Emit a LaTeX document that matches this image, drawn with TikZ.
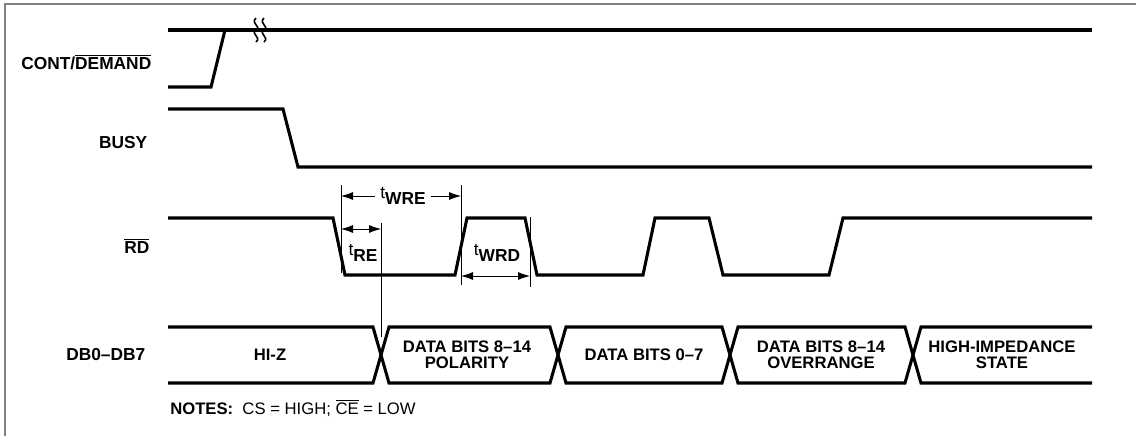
\documentclass[tikz,border=0pt]{standalone}
\usepackage{fontspec}
\setmainfont{Liberation Sans}
\usetikzlibrary{arrows.meta}

\begin{document}
\begin{tikzpicture}[x=0.75pt,y=-0.75pt,
   sig/.style={line width=2.3pt,line join=miter},
   dim/.style={line width=0.6pt},
   dimarr/.style={line width=0.6pt,-{Latex[length=9pt,width=6pt]}},
   dimboth/.style={line width=0.6pt,{Latex[length=9pt,width=6pt]}-{Latex[length=9pt,width=6pt]}},
   signame/.style={anchor=east,font=\fontsize{13}{13}\selectfont\bfseries},
   buslbl/.style={align=center,font=\fontsize{12.5}{12}\selectfont\bfseries},
   tlbl/.style={inner sep=2pt,font=\fontsize{13}{13}\selectfont}]
\useasboundingbox (0,0) rectangle (1136,436);
\draw[gray,line width=0.8pt] (1136,4) -- (5,4) -- (5,436);
% signal names
\node[signame] (lblcont) at (156,62) {CONT/$\overline{\mbox{DEMAND}}$};
\node[signame] (lblbusy) at (152,143) {BUSY};
\node[signame] (lblrd) at (154,246) {$\overline{\mbox{RD}}$};
\node[signame] (lbldb) at (150,355) {DB0--DB7};
% waveforms
\draw[sig] (168,30) -- (1092,30);
\draw[sig] (168,87) -- (211,87) -- (225,30);
\draw[line width=1.2pt] (256,18) .. controls (250,24) and (262,26) .. (256,30)
   .. controls (250,34) and (262,37) .. (256,42);
\draw[line width=1.2pt] (264,18) .. controls (258,24) and (270,26) .. (264,30)
   .. controls (258,34) and (270,37) .. (264,42);
\draw[sig] (168,109) -- (283,109) -- (298,167) -- (1092,167);
\draw[sig] (168,218) -- (333,218) -- (345,275) -- (455,275) -- (467,218)
   -- (525,218) -- (537,275) -- (643,275) -- (655,218) -- (709,218)
   -- (723,275) -- (829,275) -- (843,218) -- (1092,218);
\draw[sig] (168,327) -- (373,327) -- (389,383) -- (550,383) -- (566,327)
   -- (722,327) -- (738,383) -- (905,383) -- (921,327) -- (1092,327);
\draw[sig] (168,383) -- (373,383) -- (389,327) -- (550,327) -- (566,383)
   -- (722,383) -- (738,327) -- (905,327) -- (921,383) -- (1092,383);
\foreach \x/\t in {270/HI-Z,467/DATA BITS 8--14\\POLARITY,644/DATA BITS 0--7,
   821/DATA BITS 8--14\\OVERRANGE,1002/HIGH-IMPEDANCE\\STATE} {
   \node[buslbl] at (\x,355) {\t};
}
% timing marks
\coordinate (rea) at (341,185);
\coordinate (reb) at (341,273);
\coordinate (wra) at (461,185);
\coordinate (wrb) at (461,285);
\coordinate (dva) at (381,223);
\coordinate (dvb) at (381,337);
\coordinate (wda) at (530,217);
\coordinate (wdb) at (530,287);
\draw[dim] (rea) -- (reb) (wra) -- (wrb) (dva) -- (dvb) (wda) -- (wdb);
\node[tlbl] (twre) at (403,196) {t\raisebox{-0.6ex}{\bfseries WRE}};
\draw[dimarr] (twre.west) ++(-2pt,0) -- (rea |- twre);
\draw[dimarr] (twre.east) ++(2pt,0) -- (wra |- twre);
\node[tlbl] (tre) at (363,253) {t\raisebox{-0.6ex}{\bfseries RE}};
\draw[dimboth] (341,229) coordinate (trea) -- (dva |- trea);
\node[tlbl] (twrd) at (497,253) {t\raisebox{-0.6ex}{\bfseries WRD}};
\draw[dimboth] (461,276) coordinate (twrda) -- (wda |- twrda);
\node[anchor=west,inner sep=0pt,font=\fontsize{12.5}{12.5}\selectfont] (notes) at (170,408)
   {\textbf{NOTES:}\ \ CS = HIGH; $\overline{\mbox{CE}}$ = LOW};
\end{tikzpicture}
\end{document}
